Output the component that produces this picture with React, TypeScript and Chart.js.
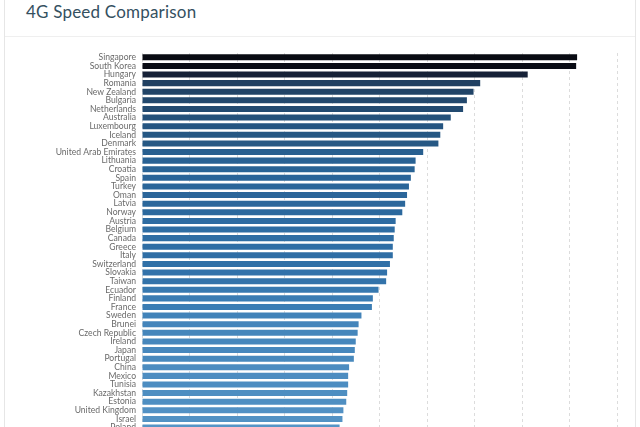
import React, { useEffect, useRef } from "react";
import { Chart, registerables } from "chart.js";

Chart.register(...registerables);

const countries = [
  "Singapore", "South Korea", "Hungary", "Romania", "New Zealand", "Bulgaria",
  "Netherlands", "Australia", "Luxembourg", "Iceland", "Denmark", "United Arab Emirates",
  "Lithuania", "Croatia", "Spain", "Turkey", "Oman", "Latvia", "Norway", "Austria",
  "Belgium", "Canada", "Greece", "Italy", "Switzerland", "Slovakia", "Taiwan",
  "Ecuador", "Finland", "France", "Sweden", "Brunei", "Czech Republic", "Ireland",
  "Japan", "Portugal", "China", "Mexico", "Tunisia", "Kazakhstan", "Estonia",
  "United Kingdom", "Israel", "Poland",
];

const speeds = [
  45.8, 45.7, 40.6, 35.6, 34.9, 34.2,
  33.8, 32.5, 31.7, 31.4, 31.2, 29.6,
  28.8, 28.7, 28.3, 28.1, 27.9, 27.7, 27.4, 26.7,
  26.6, 26.5, 26.4, 26.4, 26.1, 25.8, 25.7,
  24.9, 24.3, 24.2, 23.1, 22.8, 22.7, 22.5,
  22.4, 22.3, 21.8, 21.7, 21.7, 21.6, 21.5,
  21.2, 21.1, 20.8,
];

const xTicks = [0, 5, 10, 15, 20, 25, 30, 35, 40, 45, 50];

// colour ramp (value -> rgb)
const ramp: [number, number[]][] = [
  [20.5, [88, 150, 200]],
  [22.5, [70, 135, 188]],
  [25, [54, 120, 176]],
  [27, [44, 106, 160]],
  [31, [38, 89, 134]],
  [35.6, [32, 64, 98]],
  [40.6, [22, 33, 55]],
  [46, [8, 10, 18]],
];

function colorFor(v: number): string {
  if (v <= ramp[0][0]) return `rgb(${ramp[0][1].join(",")})`;
  for (let i = 1; i < ramp.length; i++) {
    if (v <= ramp[i][0]) {
      const [a, ca] = ramp[i - 1];
      const [b, cb] = ramp[i];
      const t = (v - a) / (b - a);
      const c = ca.map((x, k) => Math.round(x + (cb[k] - x) * t));
      return `rgb(${c.join(",")})`;
    }
  }
  return `rgb(${ramp[ramp.length - 1][1].join(",")})`;
}

export default function App() {
  const ref = useRef<HTMLCanvasElement | null>(null);

  useEffect(() => {
    if (!ref.current) return;
    const chart = new Chart(ref.current, {
      type: "bar",
      data: {
        labels: countries,
        datasets: [
          {
            data: speeds,
            backgroundColor: speeds.map(colorFor),
            borderWidth: 0,
            barPercentage: 0.7,
            categoryPercentage: 1,
          },
        ],
      },
      options: {
        indexAxis: "y",
        animation: false,
        responsive: false,
        maintainAspectRatio: false,
        layout: { padding: { top: 16, right: 23, bottom: 0, left: 0 } },
        plugins: { legend: { display: false }, tooltip: { enabled: false } },
        scales: {
          x: {
            min: 0,
            max: 50,
            afterBuildTicks: (scale: any) => {
              scale.ticks = xTicks.map((v) => ({ value: v }));
            },
            ticks: { display: false },
            grid: { color: "#dcdcdc", drawTicks: false, lineWidth: 1 },
            border: { display: false, dash: [3, 3] },
          },
          y: {
            afterFit: (scale: any) => {
              scale.width = 142;
            },
            ticks: {
              autoSkip: false,
              padding: 6,
              color: "#6a6a6a",
              font: { family: "Lato", size: 8.6 },
            },
            grid: { display: false, drawTicks: false },
            border: { display: false },
          },
        },
      },
    });
    return () => chart.destroy();
  }, []);

  return (
    <div style={{ position: "absolute", left: 0, top: 0, width: 640, height: 443, overflow: "visible", background: "#fff" }}>
      <div
        style={{
          position: "absolute",
          left: 4,
          top: -20,
          width: 630,
          height: 470,
          borderLeft: "1px solid #e6e6e6",
          borderRight: "1px solid #e6e6e6",
        }}
      />
      <div style={{ position: "absolute", left: 5, top: 36, width: 630, height: 1, background: "#efefef" }} />
      <div
        style={{
          position: "absolute",
          left: 26,
          top: 1,
          fontFamily: "Lato, sans-serif",
          fontSize: 17,
          color: "#34505f",
          letterSpacing: 0.2,
          whiteSpace: "nowrap",
        }}
      >
        4G Speed Comparison
      </div>
      <canvas
        ref={ref}
        width={640}
        height={406}
        style={{ position: "absolute", left: 0, top: 37, width: 640, height: 406 }}
      />
    </div>
  );
}
